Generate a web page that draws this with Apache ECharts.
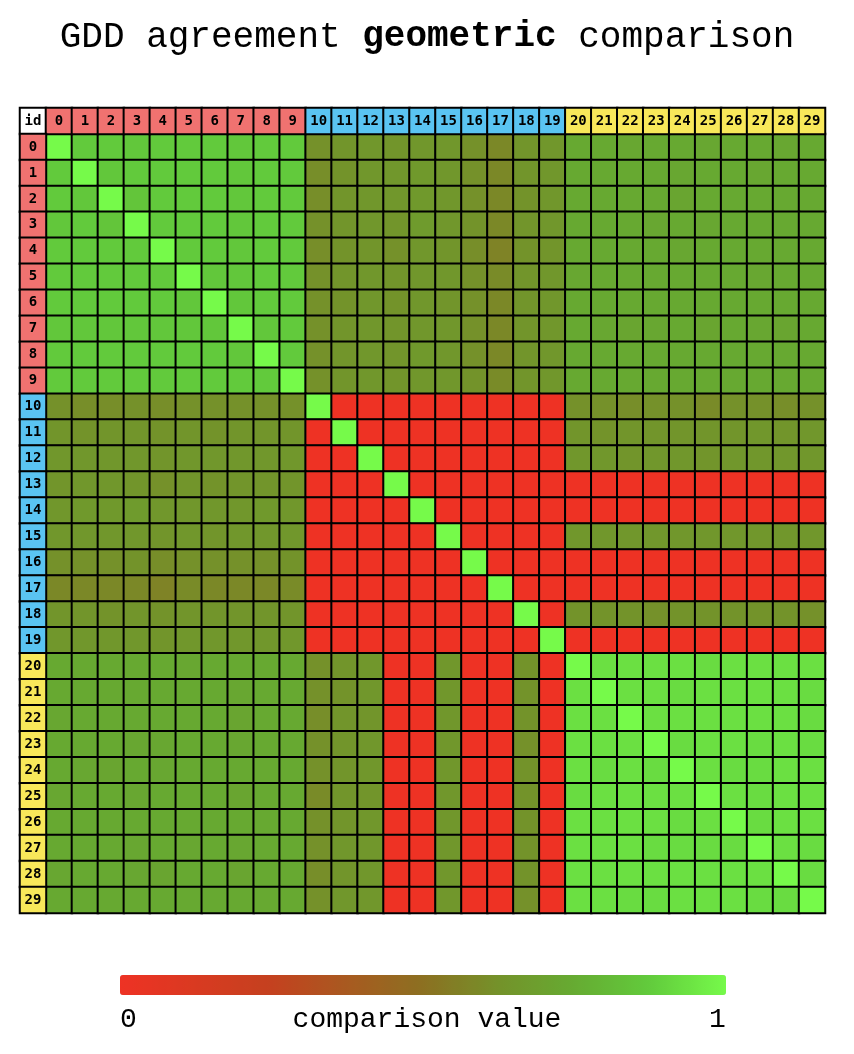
<!DOCTYPE html>
<html>
<head>
<meta charset="utf-8">
<script src="https://cdn.jsdelivr.net/npm/echarts@6/dist/echarts.min.js"></script>
<style>html,body{margin:0;padding:0;background:#fff}#c{width:854px;height:1054px}</style>
</head>
<body>
<div id="c"></div>
<script>
// ids (tick labels) and group of each id
var ids = ['0','1','2','3','4','5','6','7','8','9','10','11','12','13','14','15','16','17','18','19','20','21','22','23','24','25','26','27','28','29'];
var idGroup = [0,0,0,0,0,0,0,0,0,0,1,1,1,1,1,1,1,1,1,1,2,2,2,2,2,2,2,2,2,2];
var cornerLabel = 'id';
var valueRange = [0, 1];
var legendTicks = ['0', '1'];
var legendName = 'comparison value';

// comparison values, row i / column j
var values = [
[1,.87,.87,.86,.87,.87,.87,.86,.87,.87, .62,.64,.65,.64,.65,.65,.62,.59,.64,.65, .74,.74,.73,.74,.74,.73,.74,.74,.73,.74],
[.87,1,.86,.87,.87,.87,.87,.86,.87,.87, .61,.63,.65,.65,.66,.65,.62,.59,.64,.65, .74,.74,.74,.74,.73,.74,.74,.73,.74,.74],
[.87,.86,1,.85,.87,.87,.87,.86,.87,.87, .61,.64,.65,.65,.66,.65,.62,.59,.63,.65, .74,.74,.74,.74,.72,.74,.74,.74,.74,.74],
[.86,.87,.85,1,.87,.87,.87,.86,.87,.87, .62,.64,.65,.64,.67,.65,.63,.59,.64,.65, .74,.74,.74,.73,.74,.73,.74,.74,.74,.74],
[.87,.87,.87,.87,1,.87,.87,.86,.87,.87, .61,.63,.64,.62,.65,.64,.61,.57,.63,.64, .74,.74,.74,.74,.73,.74,.74,.74,.74,.74],
[.87,.87,.87,.87,.87,1,.86,.86,.87,.87, .62,.64,.65,.64,.65,.65,.62,.60,.64,.65, .73,.74,.74,.74,.74,.74,.74,.73,.74,.74],
[.87,.87,.87,.87,.87,.86,1,.86,.87,.87, .62,.63,.65,.63,.65,.64,.62,.59,.64,.65, .74,.74,.74,.74,.74,.74,.74,.74,.74,.74],
[.86,.86,.86,.86,.86,.86,.86,1,.86,.87, .62,.64,.65,.64,.65,.65,.62,.59,.64,.65, .74,.73,.72,.73,.74,.72,.74,.73,.72,.74],
[.87,.87,.87,.87,.87,.87,.87,.86,1,.87, .62,.64,.65,.64,.66,.65,.62,.59,.64,.65, .74,.74,.74,.74,.74,.74,.74,.74,.74,.74],
[.87,.87,.87,.87,.87,.87,.87,.87,.87,1, .62,.64,.65,.64,.65,.65,.63,.60,.64,.65, .74,.74,.74,.74,.74,.74,.74,.74,.74,.74],
[.62,.61,.61,.62,.61,.62,.62,.62,.62,.62, 1,0,0,0,0,0,0,0,0,0, .62,.62,.61,.62,.62,.60,.62,.62,.61,.62],
[.64,.63,.64,.64,.63,.64,.63,.64,.64,.64, 0,1,0,0,0,0,0,0,0,0, .64,.63,.64,.64,.64,.64,.64,.65,.64,.65],
[.65,.65,.65,.65,.64,.65,.65,.65,.65,.65, 0,0,1,0,0,0,0,0,0,0, .65,.65,.64,.65,.65,.64,.65,.65,.65,.65],
[.64,.65,.65,.64,.62,.64,.63,.64,.64,.64, 0,0,0,1,0,0,0,0,0,0, 0,0,0,0,0,0,0,0,0,0],
[.65,.66,.66,.67,.65,.65,.65,.65,.66,.65, 0,0,0,0,1,0,0,0,0,0, 0,0,0,0,0,0,0,0,0,0],
[.65,.65,.65,.65,.64,.65,.64,.65,.65,.65, 0,0,0,0,0,1,0,0,0,0, .65,.65,.65,.65,.65,.65,.65,.65,.65,.65],
[.62,.62,.62,.63,.61,.62,.62,.62,.62,.63, 0,0,0,0,0,0,1,0,0,0, 0,0,0,0,0,0,0,0,0,0],
[.59,.59,.59,.59,.57,.60,.59,.59,.59,.60, 0,0,0,0,0,0,0,1,0,0, 0,0,0,0,0,0,0,0,0,0],
[.64,.64,.63,.64,.63,.64,.64,.64,.64,.64, 0,0,0,0,0,0,0,0,1,0, .63,.63,.63,.62,.63,.63,.63,.63,.63,.62],
[.65,.65,.65,.65,.64,.65,.65,.65,.65,.65, 0,0,0,0,0,0,0,0,0,1, 0,0,0,0,0,0,0,0,0,0],
[.74,.74,.74,.74,.74,.73,.74,.74,.74,.74, .62,.64,.65,0,0,.65,0,0,.63,0, 1,.93,.93,.93,.93,.92,.93,.93,.93,.93],
[.74,.74,.74,.74,.74,.74,.74,.73,.74,.74, .62,.63,.65,0,0,.65,0,0,.63,0, .93,1,.93,.93,.92,.93,.93,.93,.93,.92],
[.73,.74,.74,.74,.74,.74,.74,.72,.74,.74, .61,.64,.64,0,0,.65,0,0,.63,0, .93,.93,1,.93,.93,.93,.93,.93,.93,.92],
[.74,.74,.74,.73,.73,.74,.74,.73,.74,.74, .62,.64,.65,0,0,.65,0,0,.62,0, .93,.93,.93,1,.92,.93,.93,.92,.93,.92],
[.74,.73,.72,.74,.73,.74,.74,.74,.74,.74, .62,.64,.65,0,0,.65,0,0,.63,0, .93,.92,.93,.92,1,.93,.92,.92,.93,.93],
[.73,.74,.74,.73,.74,.74,.74,.72,.74,.74, .60,.64,.64,0,0,.65,0,0,.63,0, .92,.93,.93,.93,.93,1,.93,.92,.93,.93],
[.74,.74,.74,.74,.74,.74,.74,.74,.74,.74, .62,.64,.65,0,0,.65,0,0,.63,0, .93,.93,.93,.93,.92,.93,1,.92,.93,.93],
[.74,.74,.74,.73,.74,.73,.74,.73,.74,.74, .62,.65,.65,0,0,.65,0,0,.63,0, .93,.93,.93,.92,.92,.92,.92,1,.93,.92],
[.73,.74,.74,.73,.72,.74,.74,.72,.74,.74, .61,.64,.65,0,0,.65,0,0,.63,0, .93,.93,.93,.93,.93,.93,.93,.93,1,.92],
[.74,.74,.74,.74,.74,.74,.74,.74,.74,.74, .62,.65,.65,0,0,.65,0,0,.62,0, .93,.93,.92,.92,.93,.93,.93,.92,.92,1]
];

// styles
var groupColors = ['#f07270', '#5ac4f2', '#f8e85a'];
var rampColors = ['#ee3224','#d93a21','#c4411f','#a85a20','#8c7021','#74922a','#66ab32','#62cb3c','#76fa4a'];
var titleFont = '"Liberation Mono", "DejaVu Sans Mono", monospace';
var headFont = '"DejaVu Sans Mono", monospace';

var axisCats = [cornerLabel].concat(ids);

var cellData = [];
for (var i = 0; i < ids.length; i++) {
  for (var j = 0; j < ids.length; j++) {
    cellData.push([j + 1, i + 1, values[i][j]]);
  }
}
// header cells (third dimension only so the heatmap keeps the item)
var headData = [{ value: [0, 0, 1], name: cornerLabel, itemStyle: { color: '#ffffff' } }];
for (var k = 0; k < ids.length; k++) {
  var col = groupColors[idGroup[k]];
  headData.push({ value: [k + 1, 0, 1], name: ids[k], itemStyle: { color: col } });
  headData.push({ value: [0, k + 1, 1], name: ids[k], itemStyle: { color: col } });
}

var chart = echarts.init(document.getElementById('c'), null, { renderer: 'canvas' });
chart.setOption({
  animation: false,
  backgroundColor: '#ffffff',
  title: {
    text: '{a|GDD agreement }{b|geometric}{a| comparison}',
    left: 'center',
    top: 14,
    textStyle: {
      fontWeight: 'normal',
      rich: {
        a: { fontFamily: titleFont, fontSize: 36, fontWeight: 'normal', color: '#000' },
        b: { fontFamily: titleFont, fontSize: 36, fontWeight: 'bold', color: '#000' }
      }
    }
  },
  grid: { left: 20, top: 108, width: 805, height: 805, containLabel: false },
  xAxis: { type: 'category', data: axisCats, show: false, boundaryGap: true },
  yAxis: { type: 'category', data: axisCats, show: false, inverse: true, boundaryGap: true },
  visualMap: {
    type: 'continuous',
    seriesIndex: 0,
    min: valueRange[0],
    max: valueRange[1],
    orient: 'horizontal',
    left: 120,
    top: 975,
    padding: 0,
    itemWidth: 20,
    itemHeight: 606,
    calculable: false,
    hoverLink: false,
    inRange: { color: rampColors }
  },
  graphic: [
    { type: 'text', left: 120, top: 1006, style: { text: legendTicks[0], font: '28px ' + titleFont, fill: '#000' } },
    { type: 'text', left: 709, top: 1006, style: { text: legendTicks[1], font: '28px ' + titleFont, fill: '#000' } },
    { type: 'text', left: 'center', top: 1006, style: { text: legendName, font: '28px ' + titleFont, fill: '#000' } }
  ],
  series: [
    {
      type: 'heatmap',
      data: cellData,
      itemStyle: { borderColor: '#000', borderWidth: 2 },
      emphasis: { disabled: true },
      label: { show: false }
    },
    {
      type: 'heatmap',
      data: headData,
      itemStyle: { borderColor: '#000', borderWidth: 2 },
      emphasis: { disabled: true },
      label: {
        show: true,
        formatter: '{b}',
        fontFamily: headFont,
        fontWeight: 'bold',
        fontSize: 14,
        color: '#000'
      }
    }
  ]
});
</script>
</body>
</html>
